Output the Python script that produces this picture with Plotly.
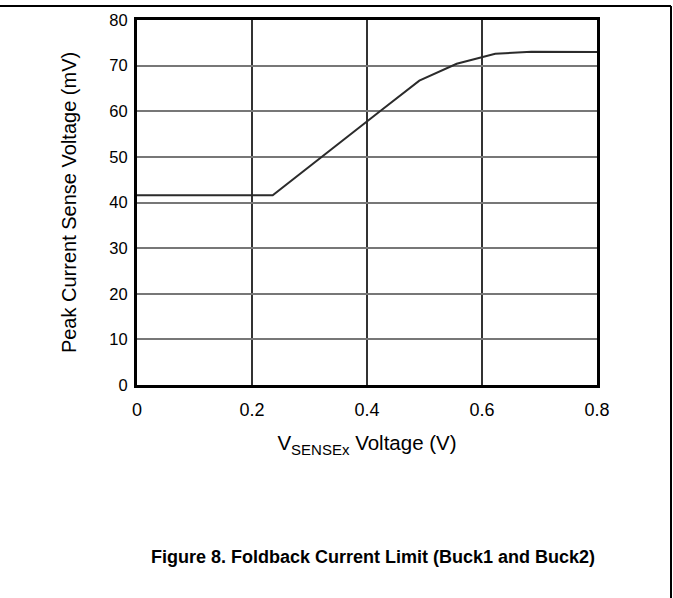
import plotly.graph_objects as go

# Data
vsense = [0.0, 0.236, 0.4226, 0.491, 0.556, 0.623, 0.686, 0.8]
peak_mv = [41.6, 41.6, 60.0, 66.7, 70.4, 72.6, 73.05, 73.0]
x_ticks = [0, 0.2, 0.4, 0.6, 0.8]
x_tick_labels = ["0", "0.2", "0.4", "0.6", "0.8"]
y_ticks = [0, 10, 20, 30, 40, 50, 60, 70, 80]

W, H = 673, 598
L, R, T, B = 137, 76, 20, 213
pw, ph = W - L - R, H - T - B

def px(x):
    return (x - L) / pw

def py(y):
    return (H - B - y) / ph

fig = go.Figure()
fig.add_trace(go.Scatter(
    x=vsense, y=peak_mv, mode="lines",
    line=dict(color="#2b2b2b", width=2),
    hoverinfo="skip", showlegend=False,
))

font = "Liberation Sans, Arial, Helvetica, sans-serif"

fig.update_layout(
    width=W, height=H,
    margin=dict(l=L, r=R, t=T, b=B),
    paper_bgcolor="white", plot_bgcolor="white",
    font=dict(family=font, size=18, color="black"),
    showlegend=False,
    xaxis=dict(
        range=[0, 0.8], tickvals=x_ticks, ticktext=x_tick_labels,
        showgrid=True, gridcolor="#333333", gridwidth=2,
        zeroline=False, showline=True, linecolor="black", linewidth=3, mirror=True,
        ticks="outside", ticklen=6, tickcolor="white",
        title=dict(text="V<sub><span style='font-size:15px'>SENSEx</span></sub> Voltage (V)",
                   standoff=18, font=dict(size=20.5)),
        tickfont=dict(size=18),
    ),
    yaxis=dict(
        range=[0, 80], tickvals=y_ticks,
        showgrid=True, gridcolor="#777777", gridwidth=1.5,
        zeroline=False, showline=True, linecolor="black", linewidth=3, mirror=True,
        ticks="outside", ticklen=3, tickcolor="white",
        title=dict(text="Peak Current Sense Voltage (mV)", standoff=28, font=dict(size=20)),
        tickfont=dict(size=16.5),
    ),
    shapes=[
        dict(type="line", xref="paper", yref="paper",
             x0=px(0), x1=px(671), y0=py(6), y1=py(6),
             line=dict(color="black", width=2)),
        dict(type="line", xref="paper", yref="paper",
             x0=px(671), x1=px(671), y0=py(6), y1=py(598),
             line=dict(color="black", width=2)),
    ],
    annotations=[
        dict(text="<b>Figure 8. Foldback Current Limit (Buck1 and Buck2)</b>",
             xref="paper", yref="paper", x=px(373), y=py(557),
             xanchor="center", yanchor="middle", showarrow=False,
             font=dict(family="Liberation Sans Narrow, Arial Narrow, Liberation Sans, sans-serif",
                       size=18, color="black")),
    ],
)

fig.write_html("out.html", config={"displayModeBar": False},
               post_script="document.body.style.margin='0';")
